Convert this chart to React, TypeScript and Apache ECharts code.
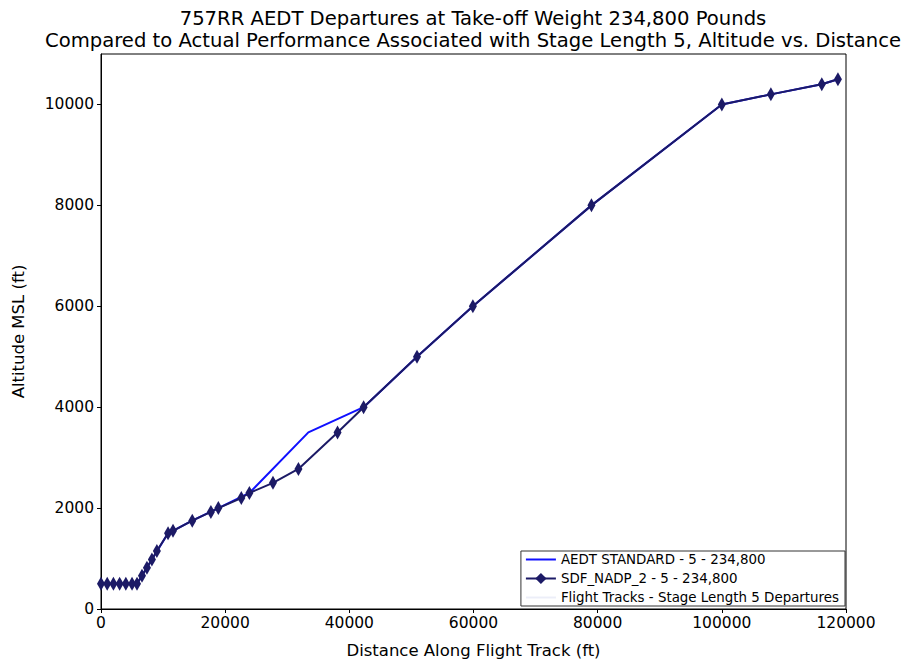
import React, { useEffect, useRef } from "react";
import * as echarts from "echarts";

const titleLines = [
  "757RR AEDT Departures at Take-off Weight 234,800 Pounds",
  "Compared to Actual Performance Associated with Stage Length 5, Altitude vs. Distance",
];
const xAxisName = "Distance Along Flight Track (ft)";
const yAxisName = "Altitude MSL (ft)";

const aedtName = "AEDT STANDARD - 5 - 234,800";
const aedtX = [0, 5800, 10800, 14700, 18900, 23900, 33400, 42300, 50900, 59900, 79000, 100000, 107900, 116100, 118700];
const aedtY = [500, 500, 1500, 1750, 2000, 2300, 3500, 4000, 5000, 6000, 8000, 10000, 10200, 10400, 10500];

const sdfName = "SDF_NADP_2 - 5 - 234,800";
const sdfX = [0, 1000, 2000, 3000, 4000, 5000, 5800, 6600, 7400, 8200, 9000, 10800, 11600, 14700, 17700, 18900, 22600, 23900, 27700, 31800, 38100, 42300, 50900, 59900, 79000, 100000, 107900, 116100, 118700];
const sdfY = [500, 500, 500, 500, 500, 500, 500, 660, 820, 980, 1150, 1500, 1550, 1750, 1925, 2000, 2200, 2300, 2500, 2775, 3500, 4000, 5000, 6000, 8000, 10000, 10200, 10400, 10500];

const tracksName = "Flight Tracks - Stage Length 5 Departures";

const xMin = 0, xMax = 120000, xStep = 20000;
const yMin = 0, yMax = 11000, yStep = 2000;

const FONT = "DejaVu Sans";

export default function App() {
  const ref = useRef<HTMLDivElement>(null);
  useEffect(() => {
    if (!ref.current) return;
    const chart = echarts.init(ref.current, null, { renderer: "svg" });
    const aedtData = aedtX.map((x, i) => [x, aedtY[i]]);
    const sdfData = sdfX.map((x, i) => [x, sdfY[i]]);
    chart.setOption({
      animation: false,
      backgroundColor: "#ffffff",
      textStyle: { fontFamily: FONT },
      title: {
        text: titleLines.join("\n"),
        left: 468,
        textAlign: "center",
        top: 2,
        textStyle: { fontFamily: FONT, fontSize: 19.6, fontWeight: "normal", color: "#000", lineHeight: 22 },
      },
      grid: { left: 101, right: 69, top: 54, bottom: 58, show: true, borderColor: "#000", borderWidth: 1, backgroundColor: "#fff" },
      legend: {
        orient: "vertical",
        right: 70,
        bottom: 61,
        backgroundColor: "#fff",
        borderColor: "#333",
        borderWidth: 1,
        borderRadius: 0,
        padding: [2, 6, 2, 4],
        itemWidth: 30,
        itemHeight: 14,
        itemGap: 6,
        textStyle: { fontFamily: FONT, fontSize: 13.4, color: "#000" },
        data: [
          { name: aedtName, icon: "path://M0 0h30v2h-30z" },
          sdfName,
          { name: tracksName, icon: "path://M0 0h30v2h-30z" },
        ],
      },
      xAxis: {
        type: "value",
        min: xMin,
        max: xMax,
        interval: xStep,
        name: xAxisName,
        nameLocation: "middle",
        nameGap: 33,
        nameTextStyle: { fontFamily: FONT, fontSize: 16.5, color: "#000" },
        axisLine: { show: true, lineStyle: { color: "#000", width: 1 } },
        axisTick: { show: true, inside: false, length: 4, lineStyle: { color: "#000" } },
        axisLabel: { fontFamily: FONT, fontSize: 15.5, color: "#000", margin: 6, formatter: (v: number) => String(v) },
        splitLine: { show: false },
      },
      yAxis: {
        type: "value",
        min: yMin,
        max: yMax,
        interval: yStep,
        name: yAxisName,
        nameLocation: "middle",
        nameGap: 74,
        nameTextStyle: { fontFamily: FONT, fontSize: 16.5, color: "#000" },
        axisLine: { show: true, lineStyle: { color: "#000", width: 1 } },
        axisTick: { show: true, inside: false, length: 4, lineStyle: { color: "#000" } },
        axisLabel: { fontFamily: FONT, fontSize: 15.5, color: "#000", margin: 7, showMaxLabel: false, formatter: (v: number) => String(v) },
        splitLine: { show: false },
      },
      series: [
        {
          name: aedtName,
          type: "line",
          data: aedtData,
          symbol: "none",
          showSymbol: false,
          lineStyle: { color: "#1010ff", width: 2 },
          itemStyle: { color: "#1010ff" },
          z: 2,
        },
        {
          name: sdfName,
          type: "line",
          data: sdfData,
          symbol: "diamond",
          symbolSize: [8, 14],
          showSymbol: true,
          showAllSymbol: true,
          lineStyle: { color: "#1c1a66", width: 2 },
          itemStyle: { color: "#1c1a66" },
          z: 3,
        },
        {
          name: tracksName,
          type: "line",
          data: [],
          symbol: "none",
          lineStyle: { color: "#eceef8", width: 2 },
          itemStyle: { color: "#eceef8" },
          z: 1,
        },
      ],
    });
    return () => chart.dispose();
  }, []);
  return <div ref={ref} style={{ width: 915, height: 667, position: "absolute", left: 0, top: 0 }} />;
}
